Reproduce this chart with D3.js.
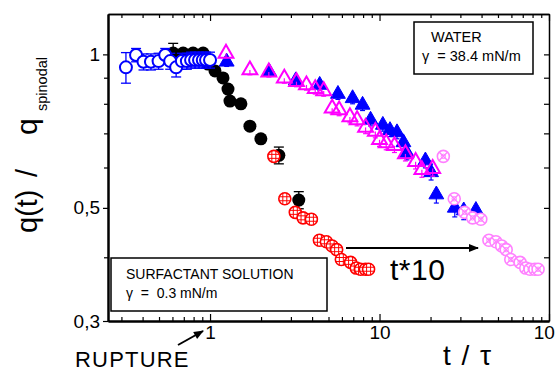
<!DOCTYPE html>
<html>
<head>
<meta charset="utf-8">
<script src="https://cdn.jsdelivr.net/npm/d3@7"></script>
<style>
  html, body { margin: 0; padding: 0; background: #fff; }
  svg { display: block; font-family: "Liberation Sans", Arial, sans-serif; }
</style>
</head>
<body>
<svg id="chart" width="555" height="371"></svg>
<script>
// surfactant solution, early times (blue open circles)
const surfEarlyT = [0.319, 0.366, 0.405, 0.448, 0.497, 0.544, 0.582, 0.631, 0.682, 0.730, 0.773, 0.816, 0.861, 0.906, 0.947, 1.0];
const surfEarlyQ = [0.943, 0.997, 0.967, 0.967, 0.970, 0.997, 0.970, 0.943, 0.970, 0.970, 0.975, 0.975, 0.975, 0.975, 0.975, 0.975];
const surfEarlyErr = [0.065, 0.03, 0.035, 0.035, 0.035, 0.03, 0.035, 0.04, 0.035, 0.035, 0.035, 0.035, 0.035, 0.035, 0.035, 0.035];

// surfactant solution (black filled circles)
const surfT = [0.606, 0.694, 0.794, 0.910, 0.973, 1.070, 1.193, 1.276, 1.311, 1.521, 1.719, 1.995, 2.547, 3.339];
const surfQ = [1.006, 1.006, 1.006, 1.006, 0.957, 0.928, 0.899, 0.855, 0.810, 0.800, 0.723, 0.683, 0.634, 0.518];
const surfErr = [0.045, 0, 0, 0, 0, 0, 0, 0, 0, 0, 0, 0, 0.024, 0.02];

// surfactant solution, late times (red crossed circles)
const surfLateT = [2.379, 2.762, 3.184, 3.538, 3.963, 4.419, 4.859, 5.255, 5.585, 5.953, 6.75, 7.29, 7.73, 8.25, 8.62];
const surfLateQ = [0.631, 0.521, 0.490, 0.478, 0.475, 0.432, 0.429, 0.421, 0.414, 0.396, 0.391, 0.381, 0.379, 0.379, 0.379];

// same late points plotted at t*10 (pink)
const shiftedT = [23.8, 27.6, 31.8, 35.4, 39.6, 44.2, 48.6, 52.6, 55.9, 59.5, 67.5, 72.9, 77.3, 82.5, 86.2];
const shiftedQ = [0.631, 0.521, 0.490, 0.478, 0.475, 0.432, 0.429, 0.421, 0.414, 0.396, 0.391, 0.381, 0.379, 0.379, 0.379];

// water, run 1 (blue filled triangles)
const waterAT = [1.254, 2.233, 3.205, 4.436, 5.685, 6.937, 7.943, 8.854, 10.46, 11.53, 12.68, 13.84, 14.51, 18.65, 20.15, 21.64, 27.8, 31.4, 37.05];
const waterAQ = [0.967, 0.925, 0.889, 0.871, 0.836, 0.820, 0.796, 0.744, 0.727, 0.710, 0.703, 0.672, 0.641, 0.619, 0.587, 0.531, 0.500, 0.494, 0.495];

// water, run 2 (magenta open triangles)
const waterBT = [1.242, 1.719, 2.223, 2.743, 3.236, 3.706, 4.175, 4.685, 5.256, 5.778, 6.688, 7.374, 8.273, 9.447, 10.0, 10.95, 12.25, 14.22, 16.33, 17.78, 20.59];
const waterBQ = [1.0045, 0.932, 0.923, 0.898, 0.884, 0.871, 0.856, 0.848, 0.784, 0.778, 0.754, 0.744, 0.719, 0.706, 0.680, 0.670, 0.662, 0.638, 0.616, 0.594, 0.597];

const xMajor = [1, 10, 100];
const xMinor = [0.3, 0.4, 0.5, 0.6, 0.7, 0.8, 0.9, 2, 3, 4, 5, 6, 7, 8, 9, 20, 30, 40, 50, 60, 70, 80, 90];
const yMajor = [0.3, 0.5, 1];
const yMajorLabels = ["0,3", "0,5", "1"];
const yMinor = [0.4, 0.6, 0.7, 0.8, 0.9];

const svg = d3.select("#chart");
const plotL = 108, plotR = 549, plotT = 14, plotB = 321;

const x = d3.scaleLog().domain([0.25, 100]).range([plotL, plotR]);
const y = d3.scaleLog().domain([0.3, 1.2]).range([plotB, plotT]);

// arrow head
svg.append("defs").append("marker")
  .attr("id", "arrow")
  .attr("viewBox", "0 0 10 10")
  .attr("refX", 9).attr("refY", 5)
  .attr("markerWidth", 6).attr("markerHeight", 5)
  .attr("markerUnits", "strokeWidth")
  .attr("orient", "auto")
  .append("path").attr("d", "M0,1 L10,5 L0,9 Z").attr("fill", "#000");

// ---- axes / frame
function styleAxis(g, width) {
  g.select(".domain").attr("stroke", "#000").attr("stroke-width", width);
  g.selectAll(".tick line").attr("stroke", "#000").attr("stroke-width", 1.2);
}

const lbl = (vals, labels) => (d) => labels[vals.indexOf(d)];

svg.append("g").attr("transform", `translate(0,${plotB})`)
  .call(d3.axisBottom(x).tickValues(xMinor).tickSize(-4).tickSizeOuter(0).tickFormat(""))
  .call((g) => styleAxis(g, 2));
svg.append("g").attr("transform", `translate(0,${plotB})`)
  .call(d3.axisBottom(x).tickValues(xMajor).tickSize(-7).tickSizeOuter(0).tickPadding(5).tickFormat(d3.format("d")))
  .call((g) => styleAxis(g, 2))
  .call((g) => g.selectAll(".tick text").attr("font-size", 19).attr("fill", "#000").attr("font-family", "Liberation Sans, Arial, sans-serif"));

svg.append("g").attr("transform", `translate(0,${plotT})`)
  .call(d3.axisTop(x).tickValues(xMinor).tickSize(-4).tickSizeOuter(0).tickFormat(""))
  .call((g) => styleAxis(g, 1.5));
svg.append("g").attr("transform", `translate(0,${plotT})`)
  .call(d3.axisTop(x).tickValues(xMajor).tickSize(-7).tickSizeOuter(0).tickFormat(""))
  .call((g) => styleAxis(g, 1.5));

svg.append("g").attr("transform", `translate(${plotL},0)`)
  .call(d3.axisLeft(y).tickValues(yMinor).tickSize(4).tickSizeOuter(0).tickFormat(""))
  .call((g) => styleAxis(g, 2));
svg.append("g").attr("transform", `translate(${plotL},0)`)
  .call(d3.axisLeft(y).tickValues(yMajor).tickSize(5).tickSizeOuter(0).tickPadding(3).tickFormat(lbl(yMajor, yMajorLabels)))
  .call((g) => styleAxis(g, 2))
  .call((g) => g.selectAll(".tick text").attr("font-size", 19).attr("fill", "#000").attr("font-family", "Liberation Sans, Arial, sans-serif"));

svg.append("g").attr("transform", `translate(${plotR},0)`)
  .call(d3.axisRight(y).tickValues(yMinor.concat(yMajor)).tickSize(-5).tickSizeOuter(0).tickFormat(""))
  .call((g) => styleAxis(g, 1.5));

// ---- legend boxes
const boxes = [
  { x: 414, y: 22, w: 119, h: 52, lines: [["WATER", 431, 42], ["\u03b3  = 38.4 mN/m", 422, 61]], size: 14.5 },
  { x: 111, y: 258, w: 216, h: 53, lines: [["SURFACTANT SOLUTION", 126, 279], ["\u03b3  =  0.3 mN/m", 126, 298]], size: 14 },
];
for (const b of boxes) {
  svg.append("rect").attr("x", b.x).attr("y", b.y).attr("width", b.w).attr("height", b.h)
    .attr("fill", "#fff").attr("stroke", "#000").attr("stroke-width", 1.5);
  for (const [txt, tx, ty] of b.lines) {
    svg.append("text").attr("x", tx).attr("y", ty).attr("font-size", b.size).attr("fill", "#000")
      .attr("xml:space", "preserve").text(txt);
  }
}

// ---- markers
function errBars(data, color) {
  const g = svg.append("g").attr("stroke", color).attr("stroke-width", 1.3);
  const d = data.filter((p) => p.e > 0);
  g.selectAll("line.v").data(d).join("line").attr("class", "v")
    .attr("x1", (p) => x(p.t)).attr("x2", (p) => x(p.t))
    .attr("y1", (p) => y(p.q - p.e)).attr("y2", (p) => y(p.q + p.e));
  for (const s of [-1, 1]) {
    g.selectAll("line.c" + (s + 1)).data(d).join("line").attr("class", "c" + (s + 1))
      .attr("x1", (p) => x(p.t) - 5).attr("x2", (p) => x(p.t) + 5)
      .attr("y1", (p) => y(p.q + s * p.e)).attr("y2", (p) => y(p.q + s * p.e));
  }
}

const zip = (ts, qs, es) => ts.map((t, i) => ({ t, q: qs[i], e: es ? es[i] : 0 }));

// black filled circles
const surf = zip(surfT, surfQ, surfErr);
errBars(surf, "#000");
svg.append("g").selectAll("circle").data(surf).join("circle")
  .attr("cx", (d) => x(d.t)).attr("cy", (d) => y(d.q)).attr("r", 6.5).attr("fill", "#000");

// blue open circles
const surfEarly = zip(surfEarlyT, surfEarlyQ, surfEarlyErr);
errBars(surfEarly, "#0000ff");
svg.append("g").selectAll("circle").data(surfEarly).join("circle")
  .attr("cx", (d) => x(d.t)).attr("cy", (d) => y(d.q)).attr("r", 6)
  .attr("fill", "#fff").attr("stroke", "#0000ff").attr("stroke-width", 2);

// crossed circles
function crossed(data, color, diag) {
  const g = svg.append("g").selectAll("g").data(data).join("g")
    .attr("transform", (d) => `translate(${x(d.t)},${y(d.q)})`)
    .attr("stroke", color).attr("fill", "none");
  g.append("circle").attr("r", 6).attr("fill", "#fff").attr("stroke-width", 1.6);
  if (diag) {
    g.append("path").attr("d", "M-4,-4L4,4M-4,4L4,-4").attr("stroke-width", 1.4);
    g.append("circle").attr("r", 2.2).attr("stroke-width", 1);
  } else {
    g.append("path").attr("d", "M-2,-6V6M2,-6V6M-6,-2H6M-6,2H6").attr("stroke-width", 1);
  }
}
crossed(zip(surfLateT, surfLateQ), "#ff0000", false);

// triangles
const tri = d3.symbol(d3.symbolTriangle, 95);
function triangles(data, color, filled) {
  const pts = data.map((p) => ({ ...p, e: 0.02 }));
  const g = svg.append("g").attr("stroke", color).attr("stroke-width", 1.2);
  g.selectAll("line").data(pts).join("line")
    .attr("x1", (p) => x(p.t)).attr("x2", (p) => x(p.t))
    .attr("y1", (p) => y(p.q)).attr("y2", (p) => y(p.q - p.e));
  g.selectAll("line.cap").data(pts).join("line").attr("class", "cap")
    .attr("x1", (p) => x(p.t) - 2.5).attr("x2", (p) => x(p.t) + 2.5)
    .attr("y1", (p) => y(p.q - p.e)).attr("y2", (p) => y(p.q - p.e));
  svg.append("g").selectAll("path").data(data).join("path")
    .attr("d", tri)
    .attr("transform", (d) => `translate(${x(d.t)},${y(d.q)})`)
    .attr("fill", filled ? color : "none")
    .attr("stroke", color).attr("stroke-width", filled ? 1 : 2);
}
triangles(zip(waterAT, waterAQ), "#0000ff", true);
triangles(zip(waterBT, waterBQ), "#ff00ff", false);

crossed(zip(shiftedT, shiftedQ), "#ff80ff", true);

// ---- annotations
svg.append("line").attr("x1", 346).attr("y1", 248).attr("x2", 478).attr("y2", 248)
  .attr("stroke", "#000").attr("stroke-width", 2).attr("marker-end", "url(#arrow)");
svg.append("text").attr("x", 390).attr("y", 280).attr("font-size", 30).attr("letter-spacing", 0.5).text("t*10");

svg.append("line").attr("x1", 178).attr("y1", 345).attr("x2", 203).attr("y2", 331)
  .attr("stroke", "#000").attr("stroke-width", 2).attr("marker-end", "url(#arrow)");
svg.append("text").attr("x", 75).attr("y", 367).attr("font-size", 22).attr("letter-spacing", 1.2).text("RUPTURE");

// axis titles
svg.append("text").attr("x", 443).attr("y", 365).attr("font-size", 28).attr("letter-spacing", 1.5)
  .attr("xml:space", "preserve").text("t / \u03c4");

const yl = svg.append("g").attr("fill", "#000");
yl.append("text").attr("transform", "translate(37,233) rotate(-90)").attr("font-size", 29).text("q(t)");
yl.append("text").attr("transform", "translate(37,177) rotate(-90)").attr("font-size", 29).text("/");
yl.append("text").attr("transform", "translate(37,135) rotate(-90)").attr("font-size", 30).text("q");
yl.append("text").attr("transform", "translate(47,111) rotate(-90)").attr("font-size", 14.5).text("spinodal");
</script>
</body>
</html>
